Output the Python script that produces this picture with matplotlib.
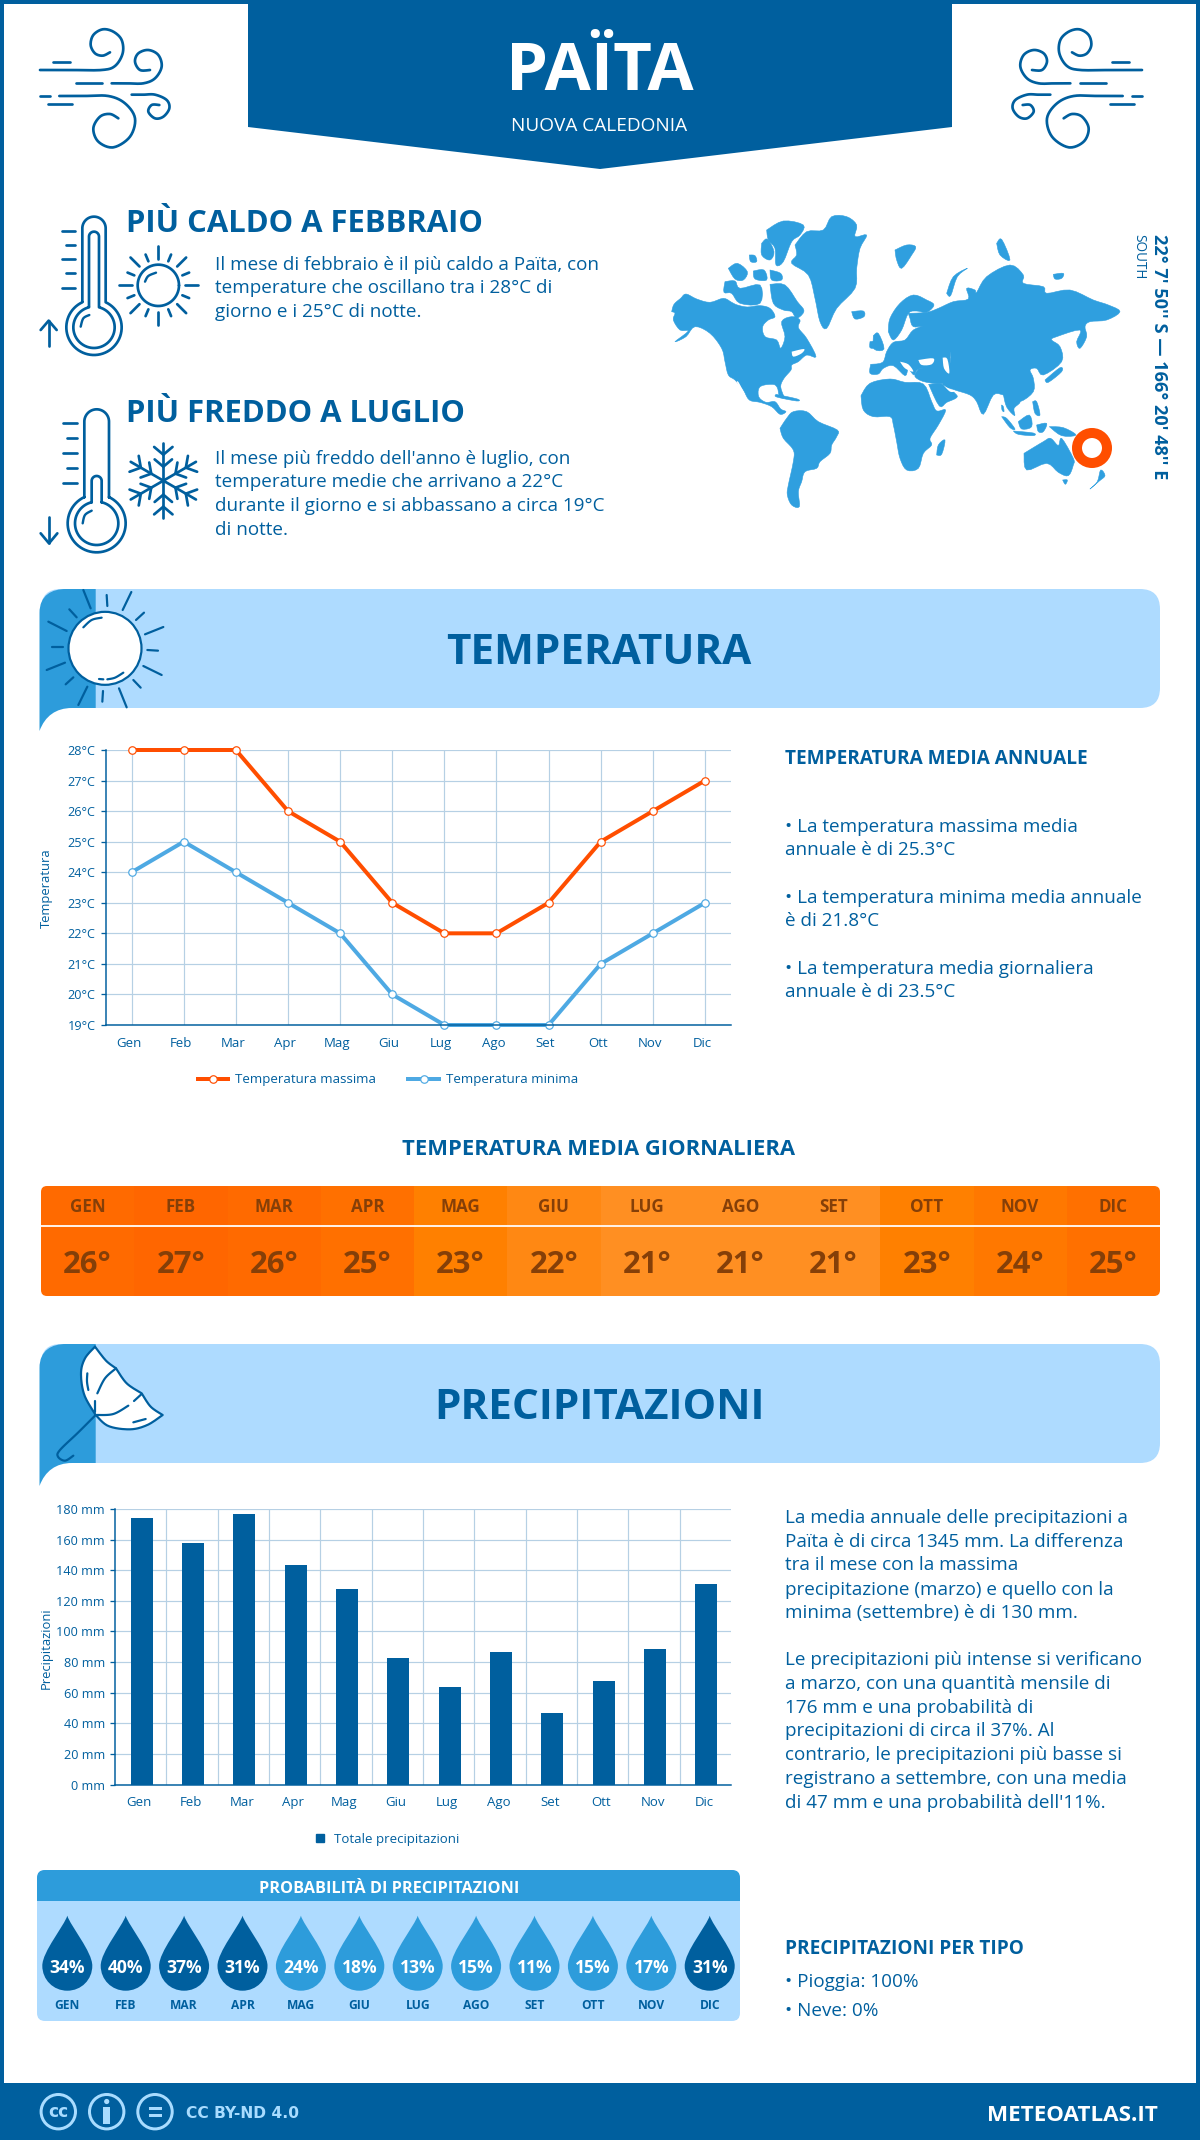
import numpy as np
import matplotlib
matplotlib.use("Agg")
import matplotlib.pyplot as plt
from matplotlib.patches import Rectangle, Circle, Polygon, PathPatch, FancyBboxPatch
from matplotlib.path import Path
from matplotlib.lines import Line2D
from matplotlib.transforms import ScaledTranslation

plt.rcParams['font.family'] = ['Open Sans', 'DejaVu Sans']

# ---------- data ----------
months = ['Gen', 'Feb', 'Mar', 'Apr', 'Mag', 'Giu', 'Lug', 'Ago', 'Set', 'Ott', 'Nov', 'Dic']
months_upper = ['GEN', 'FEB', 'MAR', 'APR', 'MAG', 'GIU', 'LUG', 'AGO', 'SET', 'OTT', 'NOV', 'DIC']
temp_max = [28, 28, 28, 26, 25, 23, 22, 22, 23, 25, 26, 27]
temp_min = [24, 25, 24, 23, 22, 20, 19, 19, 19, 21, 22, 23]
temp_avg = [26, 27, 26, 25, 23, 22, 21, 21, 21, 23, 24, 25]
precip_mm = [174, 158, 177, 143.5, 128, 82.7, 63.8, 86.8, 47, 67.5, 88.5, 131]
precip_prob = [34, 40, 37, 31, 24, 18, 13, 15, 11, 15, 17, 31]
temp_ticks = [19, 20, 21, 22, 23, 24, 25, 26, 27, 28]
precip_ticks = [0, 20, 40, 60, 80, 100, 120, 140, 160, 180]

# ---------- style ----------
DARK = '#005f9e'
MID = '#2d9cdb'
LIGHT = '#aedbff'
ORANGE = '#ff4e00'
BLUE = '#4ea9e3'
GRID = '#b6d0e4'
BROWN = '#853f08'
ICE = '#a9dcff'
LAND = '#2f9fdf'
HEAT = {27: '#ff6600', 26: '#ff6a00', 25: '#ff7000', 24: '#ff7800', 23: '#ff8000', 22: '#ff8813', 21: '#ff8f22'}

W, H = 1200, 2140
fig = plt.figure(figsize=(W / 100, H / 100), dpi=100, facecolor='white')
bg = fig.add_axes([0, 0, 1, 1])
bg.set_xlim(0, W)
bg.set_ylim(H, 0)
bg.axis('off')


def px(v):
    return v * 0.72


def T(x, y, s, size, weight='normal', color=DARK, ha='left', family=None, rot=0, zorder=10):
    """y is the vertical centre of the capitals, in pixels."""
    kw = {}
    if family:
        kw['family'] = family
    if rot == 0:
        return bg.text(x, y + 0.357 * size, s, fontsize=px(size), fontweight=weight, color=color,
                       ha=ha, va='baseline', zorder=zorder, **kw)
    return bg.text(x, y, s, fontsize=px(size), fontweight=weight, color=color, ha=ha, va='center',
                   rotation=rot, rotation_mode='anchor', zorder=zorder, **kw)


def conv(pts, ox, oy, s):
    return [(ox + a / s, oy + b / s) for a, b in pts]


def smooth(pts, n=14):
    p = np.array(pts, float)
    q = np.vstack([p[0], p, p[-1]])
    out = []
    for i in range(1, len(q) - 2):
        for t in np.linspace(0, 1, n, endpoint=False):
            a, b, c, d = q[i - 1], q[i], q[i + 1], q[i + 2]
            out.append(0.5 * (2 * b + (c - a) * t + (2 * a - 5 * b + 4 * c - d) * t ** 2 + (3 * b - a - 3 * c + d) * t ** 3))
    out.append(p[-1])
    return np.array(out)


def stroke(pts, lw=2.6, color=DARK, curve=False, z=5, fill=None):
    p = smooth(pts) if curve else np.array(pts, float)
    if fill:
        bg.add_patch(Polygon(p, closed=True, fc=fill, ec='none', zorder=z))
    bg.add_line(Line2D(p[:, 0], p[:, 1], lw=px(lw), color=color, solid_capstyle='round',
                       solid_joinstyle='round', zorder=z + 0.1))


def arc(cx, cy, r, a0, a1, n=60):
    t = np.radians(np.linspace(a0, a1, n))
    return np.column_stack([cx + r * np.cos(t), cy + r * np.sin(t)])


# ---------- frame ----------
bg.add_patch(Rectangle((0, 0), W, 4, fc=DARK, ec='none', zorder=1))
bg.add_patch(Rectangle((0, 0), 4, H, fc=DARK, ec='none', zorder=1))
bg.add_patch(Rectangle((W - 4, 0), 4, H, fc=DARK, ec='none', zorder=1))
bg.add_patch(Rectangle((0, 2083), W, 57, fc=DARK, ec='none', zorder=1))

# ---------- header ----------
bg.add_patch(Polygon([(248, 0), (952, 0), (952, 127), (600, 169), (248, 127)], fc=DARK, ec='none', zorder=2))
T(600, 66, 'PAÏTA', 67, 'bold', 'white', 'center')
T(599, 124, 'NUOVA CALEDONIA', 19, 'normal', 'white', 'center')

wind_curves = [
    [(30, 150), (120, 150), (215, 150), (255, 138), (278, 100), (275, 60), (250, 35), (218, 28), (190, 45), (182, 75), (195, 100), (218, 107), (240, 97)],
    [(245, 190), (290, 190), (340, 190), (375, 175), (395, 140), (385, 105), (355, 90), (325, 100), (315, 125), (330, 150), (360, 150)],
    [(88, 228), (160, 228), (235, 228), (285, 250), (315, 295), (300, 350), (250, 382), (205, 365), (190, 325), (210, 290), (240, 282), (265, 295)],
    [(305, 224), (340, 224), (375, 224), (410, 240), (418, 265), (400, 290), (375, 295), (355, 275), (365, 255), (388, 255)],
]
wind_dashes = [[(68, 125), (120, 125)], [(138, 190), (215, 190)], [(30, 228), (60, 228)], [(55, 252), (125, 252)]]
for mirror in (False, True):
    for c in wind_curves + wind_dashes:
        pts = conv(c, 30, 20, 3)
        if mirror:
            pts = [(1182 - a, b) for a, b in pts]
        stroke(pts, 2.7, curve=c in wind_curves)


# ---------- thermometers ----------
def thermo(cx, top_r, top_y, stem_bottom, by, R, r, inner_half, inner_top, inner_bottom, ticks, arrow, hl):
    ang = np.degrees(np.arcsin(top_r / R))
    outer = np.vstack([[(cx - top_r, stem_bottom)], arc(cx, top_y, top_r, 180, 360), [(cx + top_r, stem_bottom)],
                       arc(cx, by, R, -90 + ang, 270 - ang)])
    stroke(conv(outer, 30, 200, 3), 2.7)
    ang2 = np.degrees(np.arcsin(inner_half / r))
    inner = np.vstack([[(cx - inner_half, inner_bottom)], arc(cx, inner_top, inner_half, 180, 360),
                       [(cx + inner_half, inner_bottom)], arc(cx, by, r, -90 + ang2, 270 - ang2)])
    stroke(conv(inner, 30, 200, 3), 2.7)
    stroke(conv(hl, 30, 200, 3), 2.4, curve=True)
    for t in ticks:
        stroke(conv(t, 30, 200, 3), 2.7)
    for a in arrow:
        stroke(conv(a, 30, 200, 3), 2.7)


thermo(192, 35, 85, 305, 382, 83, 62, 15, 110, 320,
       [[(97, 93), (135, 93)], [(107, 135), (135, 135)], [(97, 178), (135, 178)], [(107, 220), (135, 220)], [(97, 263), (135, 263)]],
       [[(56, 438), (56, 362)], [(32, 390), (56, 362), (80, 390)]],
       [(178, 345), (160, 355), (152, 380)])
thermo(200, 37, 665, 892, 970, 87, 65, 15, 843, 907,
       [[(100, 670), (140, 670)], [(110, 715), (140, 715)], [(100, 759), (140, 759)], [(110, 803), (140, 803)], [(100, 848), (140, 848)]],
       [[(57, 950), (57, 1030)], [(32, 1000), (57, 1030), (82, 1000)]],
       [(185, 932), (165, 945), (158, 970)])

# small sun
sc = (385, 256)
stroke(conv(arc(sc[0], sc[1], 62, 0, 360), 30, 200, 3), 2.7)
stroke(conv([(345, 245), (355, 228), (378, 218)], 30, 200, 3), 2.4, curve=True)
for a in range(0, 360, 45):
    u = np.array([np.cos(np.radians(a)), np.sin(np.radians(a))])
    stroke(conv([sc + 80 * u, sc + 118 * u], 30, 200, 3), 2.7)
for a in range(0, 360, 45):
    u = np.array([np.cos(np.radians(a + 22.5)), np.sin(np.radians(a + 22.5))])
    stroke(conv([sc + 78 * u, sc + 100 * u], 30, 200, 3), 2.7)

# snowflake
fc = np.array((400, 842.0))
for a in range(30, 360, 60):
    th = np.radians(a)
    u = np.array([np.cos(th), np.sin(th)])
    stroke(conv([fc, fc + 113 * u], 30, 200, 3), 2.7)
    for r0, ln in ((78, 36), (42, 34)):
        for d in (-50, 50):
            v = np.array([np.cos(th + np.radians(d)), np.sin(th + np.radians(d))])
            stroke(conv([fc + r0 * u, fc + r0 * u + ln * v], 30, 200, 3), 2.7)

# ---------- headings ----------
BODY = 18.9
T(126, 221, 'PIÙ CALDO A FEBBRAIO', 31, 'bold')
for y, s in zip((263, 286, 310), ('Il mese di febbraio è il più caldo a Païta, con',
                                  'temperature che oscillano tra i 28°C di',
                                  'giorno e i 25°C di notte.')):
    T(215, y, s, BODY)
T(126, 411, 'PIÙ FREDDO A LUGLIO', 31, 'bold')
for y, s in zip((457, 480, 504, 528), ("Il mese più freddo dell'anno è luglio, con",
                                       'temperature medie che arrivano a 22°C',
                                       'durante il giorno e si abbassano a circa 19°C',
                                       'di notte.')):
    T(215, y, s, BODY)

# ---------- map ----------
land = [
    # North America
    [(35, 320), (42, 298), (62, 280), (78, 267), (110, 282), (150, 292), (190, 280), (215, 292), (232, 300), (262, 306), (300, 302), (330, 310), (345, 335), (325, 345), (308, 365), (315, 395), (350, 405), (362, 430), (375, 395), (365, 350), (395, 335), (420, 345), (415, 368), (440, 400), (468, 455), (440, 450), (415, 470), (395, 480), (393, 495), (372, 520), (362, 545), (372, 578), (358, 572), (352, 548), (338, 538), (300, 545), (296, 575), (318, 592), (345, 590), (362, 612), (378, 620), (360, 628), (335, 605), (300, 592), (268, 585), (250, 555), (225, 525), (205, 510), (195, 470), (185, 430), (150, 385), (105, 365), (78, 395), (45, 410), (85, 378), (60, 375), (40, 345), (45, 325)],
    # Greenland
    [(405, 120), (440, 80), (490, 75), (515, 35), (560, 35), (590, 60), (585, 95), (620, 90), (600, 130), (590, 190), (585, 250), (530, 310), (500, 370), (480, 350), (465, 280), (445, 210), (395, 175), (410, 150)],
    # Arctic islands
    [(320, 75), (370, 48), (430, 60), (420, 90), (395, 110), (370, 170), (348, 180), (345, 130), (325, 105)],
    [(305, 115), (322, 102), (342, 140), (330, 165), (305, 150)],
    [(205, 190), (232, 175), (262, 200), (250, 225), (225, 222)],
    [(195, 230), (225, 228), (240, 250), (300, 240), (300, 295), (240, 295), (215, 265), (192, 262)],
    [(280, 198), (312, 195), (320, 225), (285, 222)],
    [(330, 195), (362, 205), (365, 225), (335, 225)],
    [(330, 238), (375, 240), (412, 290), (432, 318), (410, 340), (395, 320), (370, 315), (340, 295)],
    [(268, 150), (285, 152), (290, 170), (272, 170)],
    # South America
    [(360, 670), (380, 640), (400, 620), (440, 620), (475, 650), (532, 675), (530, 695), (515, 720), (510, 745), (480, 770), (470, 790), (435, 800), (425, 830), (415, 860), (418, 905), (395, 900), (382, 870), (385, 840), (400, 770), (400, 735), (370, 700)],
    # Africa
    [(603, 572), (630, 535), (690, 522), (735, 532), (790, 537), (815, 590), (830, 618), (857, 615), (835, 660), (810, 700), (815, 720), (790, 745), (775, 790), (740, 795), (720, 760), (710, 710), (700, 660), (690, 635), (640, 635), (610, 615)],
    [(830, 750), (835, 720), (855, 705), (845, 748)],
    # Europe
    [(632, 478), (668, 472), (680, 440), (700, 412), (735, 405), (760, 375), (800, 360), (840, 350), (870, 440), (860, 505), (820, 490), (775, 492), (762, 510), (745, 492), (735, 512), (700, 482), (670, 490), (655, 507), (630, 505)],
    # Scandinavia
    [(685, 380), (690, 340), (720, 295), (760, 270), (800, 285), (822, 300), (800, 322), (770, 318), (745, 325), (725, 375), (700, 405)],
    # Russia and Asia
    [(745, 325), (800, 322), (835, 310), (880, 290), (925, 282), (920, 250), (945, 255), (950, 262), (980, 215), (1050, 180), (1090, 210), (1090, 235), (1150, 245), (1160, 265), (1230, 255), (1300, 285), (1345, 300), (1380, 320), (1340, 345), (1290, 350), (1275, 365), (1280, 395), (1260, 430), (1250, 410), (1260, 375), (1190, 395), (1175, 405), (1200, 425), (1205, 470), (1150, 510), (1130, 490), (1110, 495), (1120, 520), (1120, 560), (1080, 590), (1050, 578), (1030, 570), (1000, 570), (970, 628), (950, 590), (930, 570), (885, 555), (850, 540), (860, 505), (870, 440), (800, 370), (760, 365), (750, 340)],
    # Turkey
    [(775, 492), (860, 480), (860, 532), (800, 532), (765, 515)],
    # Arabia
    [(806, 538), (850, 538), (885, 565), (890, 578), (860, 592), (838, 603)],
    # South-east Asia
    [(1030, 568), (1080, 588), (1062, 610), (1064, 632), (1040, 606)],
    # islands
    [(1155, 525), (1200, 488), (1205, 500), (1165, 532)],
    [(1025, 635), (1040, 640), (1065, 672), (1050, 668)],
    [(1075, 650), (1108, 630), (1115, 665), (1085, 672)],
    [(1060, 678), (1120, 684), (1120, 692), (1075, 688)],
    [(1168, 665), (1210, 668), (1248, 690), (1205, 692)],
    [(1118, 590), (1130, 590), (1140, 630), (1125, 625)],
    [(1130, 660), (1160, 655), (1150, 680), (1135, 680)],
    [(1092, 745), (1150, 710), (1172, 700), (1195, 722), (1205, 700), (1240, 760), (1240, 780), (1225, 812), (1195, 802), (1160, 775), (1100, 795)],
    [(1208, 825), (1222, 825), (1216, 838)],
    [(1290, 852), (1318, 828), (1335, 812), (1322, 795), (1312, 830)],
    [(575, 320), (610, 318), (612, 335), (585, 342)],
    [(705, 135), (740, 120), (767, 125), (755, 150), (725, 190), (710, 165)],
    [(860, 265), (880, 215), (922, 190), (892, 215), (872, 272)],
    [(1010, 115), (1025, 103), (1050, 165), (1020, 150)],
    [(640, 392), (655, 385), (672, 432), (642, 432)],
    [(630, 410), (645, 410), (645, 428), (630, 428)],
    [(1180, 208), (1210, 205), (1205, 220), (1185, 222)],
    [(348, 568), (412, 582), (410, 588), (350, 576)],
    [(832, 180 + 300), (840, 470), (845, 475), (836, 482)],
    [(1025, 600), (1030, 605), (1032, 620), (1026, 615)],
]
for poly in land:
    rounded = smooth(conv(poly + poly[:1], 660, 205, 3), n=4)
    bg.add_patch(Polygon(rounded, fc=LAND, ec=LAND, lw=0.4, zorder=3, joinstyle='round'))
holes = [
    [(775, 465), (820, 460), (815, 478), (785, 480)],
    [(848, 458), (862, 462), (868, 505), (852, 490)],
    [(395, 440), (432, 432), (425, 445), (400, 455)],
    [(720, 470), (745, 478), (760, 500), (735, 490)],
    [(230, 530), (236, 532), (255, 570), (250, 572)],
    [(850, 540), (862, 548), (885, 558), (870, 560)],
]
for poly in holes:
    bg.add_patch(Polygon(smooth(conv(poly + poly[:1], 660, 205, 3), n=4), fc='white', ec='none', zorder=3.2))
bg.add_patch(Circle((1092, 448), 15, fc='none', ec=ORANGE, lw=px(10), zorder=4))
T(1159, 234, "22° 7' 50'' S — 166° 20' 48'' E", 18.1, 'bold', rot=-90)
T(1139, 234, 'SOUTH', 13.5, 'normal', rot=-90)


# ---------- banners ----------
def banner(y0, y1, title):
    bg.add_patch(FancyBboxPatch((41, y0), 1119, y1 - y0, boxstyle='round,pad=0,rounding_size=20', fc=LIGHT, ec='none', zorder=2))
    verts = [(39.5, y0 + 24), (39.5, y0 + 6), (52, y0), (66, y0), (95.7, y0), (95.7, y1), (72, y1),
             (56, y1), (45, y1 + 8), (39.5, y1 + 23), (39.5, y0 + 24)]
    codes = [Path.MOVETO, Path.CURVE4, Path.CURVE4, Path.CURVE4, Path.LINETO, Path.LINETO, Path.LINETO,
             Path.CURVE4, Path.CURVE4, Path.CURVE4, Path.CLOSEPOLY]
    bg.add_patch(PathPatch(Path(verts, codes), fc=MID, ec='none', zorder=2.5))
    T(599, (y0 + y1) / 2, title, 42.3, 'bold', ha='center')


banner(589, 708, 'TEMPERATURA')
banner(1344, 1463, 'PRECIPITAZIONI')

# big sun
c = conv([(225, 190)], 30, 585, 3)[0]
bg.add_patch(Circle(c, 36.5, fc='white', ec=DARK, lw=px(2.2), zorder=5))
rays = [[(160, 15), (182, 70)], [(118, 73), (140, 97)], [(55, 110), (110, 138)], [(65, 185), (98, 185)], [(50, 255), (105, 233)],
        [(107, 298), (130, 277)], [(145, 360), (172, 305)], [(217, 350), (219, 318)], [(267, 310), (290, 367)], [(310, 285), (332, 308)],
        [(340, 243), (395, 270)], [(352, 195), (384, 197)], [(345, 148), (400, 126)], [(318, 105), (342, 83)], [(278, 75), (304, 21)], [(230, 30), (232, 63)]]
for r in rays:
    stroke(conv(r, 30, 585, 3), 2.2)
stroke(conv([(160, 127), (185, 105), (215, 98)], 30, 585, 3), 2.2, curve=True, z=6)
stroke(conv([(232, 283), (255, 278), (280, 263)], 30, 585, 3), 2.2, curve=True, z=6)
stroke(conv([(207, 282), (220, 283)], 30, 585, 3), 2.2, z=6)

# umbrella
U = (30, 1340, 3)
umbrella_segments = [
    [(195, 20), (165, 55), (153, 100), (163, 165), (197, 225)],
    [(197, 225), (235, 258), (300, 268), (352, 255), (398, 225)],
    [(398, 225), (362, 200), (335, 160)],
    [(335, 160), (290, 130), (258, 85)],
    [(258, 85), (228, 62), (195, 20)],
]
outline = np.vstack([smooth(conv(s, *U)) for s in umbrella_segments])
bg.add_patch(Polygon(outline, fc='white', ec='none', zorder=5))
stroke(outline, 2.2, z=5)
for seg, cv in (([(172, 100), (171, 125), (175, 150)], True), ([(202, 160), (225, 115), (258, 85)], True), ([(195, 182), (195, 215)], False),
                ([(200, 225), (250, 222), (295, 197)], True), ([(312, 183), (335, 162)], False), ([(310, 247), (347, 237)], False)):
    stroke(conv(seg, *U), 2.2, curve=cv, z=6)
stroke(conv([(197, 225), (145, 277), (90, 330), (84, 350), (105, 362), (130, 347)], *U), 2.2, curve=True, z=6)


# ---------- charts ----------
def chart_axes(x0, y0, x1, y1):
    a = fig.add_axes([x0 / W, 1 - y1 / H, (x1 - x0) / W, (y1 - y0) / H], facecolor='none', zorder=6)
    for s in ('top', 'right'):
        a.spines[s].set_visible(False)
    for s in ('left', 'bottom'):
        a.spines[s].set_color(DARK)
        a.spines[s].set_linewidth(px(1.5))
    a.tick_params(axis='y', length=px(5), width=px(1.3), color=DARK, labelcolor=DARK, labelsize=px(12.6), pad=px(5))
    a.tick_params(axis='x', length=0, labelcolor=DARK, labelsize=px(13.2), pad=px(11.5))
    a.set_axisbelow(True)
    return a


x_pos = np.arange(12)
ax1 = chart_axes(105.6, 750, 731, 1025)
ax1.set_xlim(-0.5, 11.5)
ax1.set_ylim(19, 28)
ax1.set_yticks(temp_ticks)
ax1.set_yticklabels([f'{t}°C' for t in temp_ticks])
ax1.set_xticks(x_pos)
ax1.set_xticklabels(months)
for lab in ax1.get_xticklabels():
    lab.set_transform(lab.get_transform() + ScaledTranslation(-3 / 100, 0, fig.dpi_scale_trans))
ax1.grid(True, color=GRID, lw=px(1.2))
mk = dict(marker='o', ms=px(7.5), mfc='white', mew=px(1.2), clip_on=False)
l1, = ax1.plot(x_pos, temp_max, color=ORANGE, lw=px(4), mec=ORANGE, label='Temperatura massima', **mk)
l2, = ax1.plot(x_pos, temp_min, color=BLUE, lw=px(4), mec=BLUE, label='Temperatura minima', **mk)
fig.legend(handles=[l1, l2], loc='center', bbox_to_anchor=(388 / W, 1 - 1080 / H), ncol=2, frameon=False, fontsize=px(13.3),
           labelcolor=DARK, handlelength=2.3, handletextpad=0.55, columnspacing=2.4, borderpad=0)
T(46, 888, 'Temperatura', 13, ha='center', rot=90)

ax2 = chart_axes(115, 1509, 731, 1784.6)
ax2.set_xlim(-0.5, 11.5)
ax2.set_ylim(0, 180)
ax2.set_yticks(precip_ticks)
ax2.set_yticklabels([f'{t} mm' for t in precip_ticks])
ax2.set_xticks(x_pos)
ax2.set_xticklabels(months)
for lab in ax2.get_xticklabels():
    lab.set_transform(lab.get_transform() + ScaledTranslation(-1.5 / 100, 0, fig.dpi_scale_trans))
ax2.set_xticks(x_pos[:-1] + 0.5, minor=True)
ax2.tick_params(axis='x', which='minor', length=0)
ax2.grid(True, axis='y', color=GRID, lw=px(1.2))
ax2.grid(True, axis='x', which='minor', color=GRID, lw=px(1.2))
b = ax2.bar(x_pos + 0.02, precip_mm, width=0.43, color=DARK, zorder=3, label='Totale precipitazioni')
sq = Line2D([], [], ls='none', marker='s', ms=px(8), color=DARK, label='Totale precipitazioni')
fig.legend(handles=[sq], loc='center', bbox_to_anchor=(387 / W, 1 - 1839 / H), frameon=False, fontsize=px(13.3),
           labelcolor=DARK, handlelength=0.8, handletextpad=0.6, borderpad=0)
T(46, 1648, 'Precipitazioni', 13, ha='center', rot=90)

# ---------- right texts ----------
T(785, 757, 'TEMPERATURA MEDIA ANNUALE', 19, 'bold')
for y, s in zip((825, 848, 896, 919, 967, 990), ('• La temperatura massima media', 'annuale è di 25.3°C',
                                                 '• La temperatura minima media annuale', 'è di 21.8°C',
                                                 '• La temperatura media giornaliera', 'annuale è di 23.5°C')):
    T(785, y, s, BODY)
T(598, 1147, 'TEMPERATURA MEDIA GIORNALIERA', 22, 'bold', ha='center')
prec_lines = ['La media annuale delle precipitazioni a', 'Païta è di circa 1345 mm. La differenza',
              'tra il mese con la massima', 'precipitazione (marzo) e quello con la',
              'minima (settembre) è di 130 mm.',
              'Le precipitazioni più intense si verificano', 'a marzo, con una quantità mensile di',
              '176 mm e una probabilità di', 'precipitazioni di circa il 37%. Al',
              'contrario, le precipitazioni più basse si', 'registrano a settembre, con una media',
              "di 47 mm e una probabilità dell'11%."]
for y, s in zip((1516.5, 1540, 1563.5, 1588, 1611.5, 1658.5, 1682, 1706, 1729, 1753.6, 1777, 1801), prec_lines):
    T(785, y, s, BODY)
T(785, 1947, 'PRECIPITAZIONI PER TIPO', 19, 'bold')
T(785, 1980, '• Pioggia: 100%', BODY)
T(785, 2009, '• Neve: 0%', BODY)

# ---------- daily temperature table ----------
clip = FancyBboxPatch((41, 1186), 1119, 110, boxstyle='round,pad=0,rounding_size=6', fc='none', ec='none', zorder=2)
bg.add_patch(clip)
cw = 1119 / 12
for i, (m, v) in enumerate(zip(months_upper, temp_avg)):
    r = Rectangle((41 + i * cw, 1186), cw + 0.5, 110, fc=HEAT[v], ec='none', zorder=3)
    bg.add_patch(r)
    r.set_clip_path(clip)
    cx = 41 + (i + 0.5) * cw
    T(cx, 1206, m, 17, 'bold', BROWN, 'center')
    T(cx, 1262, f'{v}°', 31, 'bold', BROWN, 'center')
bg.add_patch(Rectangle((41, 1225), 1119, 1.6, fc='#fff0e4', ec='none', zorder=4))

# ---------- probability panel ----------
bg.add_patch(FancyBboxPatch((37, 1870), 703, 151, boxstyle='round,pad=0,rounding_size=8', fc=LIGHT, ec='none', zorder=2))
hd = FancyBboxPatch((37, 1870), 703, 60, boxstyle='round,pad=0,rounding_size=8', fc=MID, ec='none', zorder=2.2)
bg.add_patch(hd)
bg.add_patch(Rectangle((37, 1901), 703, 32, fc=LIGHT, ec='none', zorder=2.4))
T(389, 1887, 'PROBABILITÀ DI PRECIPITAZIONI', 16.2, 'bold', 'white', 'center')

drop_x = [67.3 + 58.4 * i for i in range(12)]
for cx, p, m in zip(drop_x, precip_prob, months_upper):
    cy = 1965.7
    verts = [(cx, cy - 50), (cx + 3, cy - 40), (cx + 25, cy - 14), (cx + 25, cy),
             (cx + 25, cy + 14), (cx + 14, cy + 25), (cx, cy + 25),
             (cx - 14, cy + 25), (cx - 25, cy + 14), (cx - 25, cy),
             (cx - 25, cy - 14), (cx - 3, cy - 40), (cx, cy - 50), (cx, cy - 50)]
    codes = [Path.MOVETO] + [Path.CURVE4] * 12 + [Path.CLOSEPOLY]
    bg.add_patch(PathPatch(Path(verts, codes), fc=DARK if p >= 30 else MID, ec='none', zorder=3))
    T(cx, 1966.5, f'{p}%', 17.5, 'bold', 'white', 'center')
    T(cx, 2005, m, 12, 'bold', DARK, 'center')

# ---------- footer ----------
for cx in (58.3, 106.7, 155):
    bg.add_patch(Circle((cx, 2111.7), 17.2, fc='none', ec=ICE, lw=px(3), zorder=3))
T(58.3, 2110.5, 'cc', 17, 'bold', ICE, 'center', family='DejaVu Sans')
bg.add_patch(Circle((106.7, 2101.5), 2.6, fc=ICE, ec='none', zorder=4))
bg.add_patch(Rectangle((103, 2106.5), 7.4, 17, fc=ICE, ec='none', zorder=4))
bg.add_patch(Rectangle((148.5, 2107), 13, 2.8, fc=ICE, ec='none', zorder=4))
bg.add_patch(Rectangle((148.5, 2114), 13, 2.8, fc=ICE, ec='none', zorder=4))
T(186, 2112, 'CC BY-ND 4.0', 15.5, 'bold', ICE, family='DejaVu Sans')
T(1158, 2112.6, 'METEOATLAS.IT', 22.4, 'bold', 'white', 'right')

fig.savefig('out.png', dpi=100, facecolor='white')
